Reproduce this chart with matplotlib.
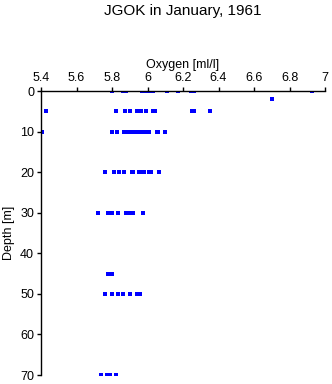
import matplotlib
matplotlib.use("Agg")
import matplotlib.pyplot as plt

plt.rcParams['font.family'] = ['Liberation Sans', 'DejaVu Sans']

# Oxygen values [ml/l] by sampling depth [m]
depth_0 = [5.80, 5.86, 5.88, 5.97, 5.99, 6.01, 6.03, 6.11, 6.17, 6.245, 6.26, 6.925]
depth_2 = [6.70]
depth_5 = [5.43, 5.82, 5.875, 5.90, 5.94, 5.965, 5.99, 6.03, 6.04, 6.25, 6.26, 6.35]
depth_10 = [5.405, 5.80, 5.83, 5.87, 5.88, 5.90, 5.92, 5.935, 5.95, 5.97, 5.99,
            6.01, 6.055, 6.06, 6.10]
depth_20 = [5.76, 5.81, 5.84, 5.87, 5.91, 5.92, 5.95, 5.96, 5.98, 6.01, 6.02, 6.065]
depth_30 = [5.72, 5.78, 5.79, 5.80, 5.835, 5.88, 5.89, 5.91, 5.92, 5.975]
depth_45 = [5.78, 5.79, 5.80]
depth_50 = [5.76, 5.80, 5.835, 5.86, 5.90, 5.94, 5.955]
depth_70 = [5.74, 5.77, 5.78, 5.79, 5.82]

groups = [(0, depth_0), (2, depth_2), (5, depth_5), (10, depth_10), (20, depth_20),
          (30, depth_30), (45, depth_45), (50, depth_50), (70, depth_70)]

x_ticks = [5.4, 5.6, 5.8, 6, 6.2, 6.4, 6.6, 6.8, 7]
x_tick_labels = ["5.4", "5.6", "5.8", "6", "6.2", "6.4", "6.6", "6.8", "7"]
y_ticks = [0, 10, 20, 30, 40, 50, 60, 70]

fig = plt.figure(figsize=(3.32, 3.84), dpi=100)
ax = fig.add_axes([0.1235, 0.0234, 0.8555, 0.7396])

xs, ys = [], []
for d, vals in groups:
    xs.extend(vals)
    ys.extend([d] * len(vals))
rect = [(-2, -1.5), (2, -1.5), (2, 1.5), (-2, 1.5), (-2, -1.5)]
ax.plot(xs, ys, linestyle='none', marker=rect, markersize=2.9,
        color='#0000ff', markeredgewidth=0)

ax.set_xlim(5.4, 7)
ax.set_ylim(70, 0)
ax.xaxis.tick_top()
ax.xaxis.set_label_position('top')
ax.set_xticks(x_ticks)
ax.set_xticklabels(x_tick_labels)
ax.set_yticks(y_ticks)
ax.spines['right'].set_visible(False)
ax.spines['bottom'].set_visible(False)
ax.spines['top'].set_linewidth(1.0)
ax.spines['left'].set_linewidth(1.0)
ax.tick_params(axis='both', direction='out', length=3, width=1, labelsize=9, pad=2)
ax.set_xlabel('Oxygen [ml/l]', fontsize=9, labelpad=3)
ax.set_ylabel('Depth [m]', fontsize=9, labelpad=4)
fig.text(0.551, 0.972, 'JGOK in January, 1961', ha='center', va='center', fontsize=11)

fig.savefig('out.png', dpi=100)
